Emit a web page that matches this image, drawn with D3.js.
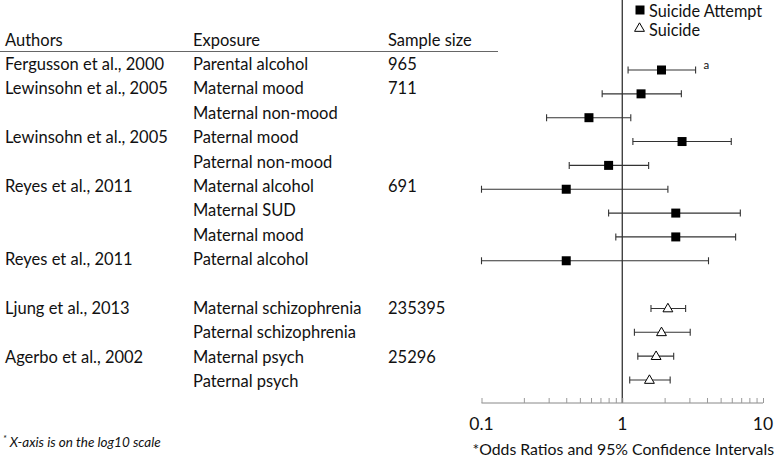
<!DOCTYPE html>
<html>
<head>
<meta charset="utf-8">
<script src="https://cdn.jsdelivr.net/npm/d3@7"></script>
<style>
  html, body { margin: 0; padding: 0; background: #fff; }
  svg { display: block; font-family: Lato, "Open Sans", sans-serif; }
</style>
</head>
<body>
<svg id="chart" width="780" height="460"></svg>
<script>
// ---------------- data ----------------
const authors = ["Fergusson et al., 2000", "Lewinsohn et al., 2005", "", "Lewinsohn et al., 2005", "",
  "Reyes et al., 2011", "", "", "Reyes et al., 2011",
  "Ljung et al., 2013", "", "Agerbo et al., 2002", ""];
const exposures = ["Parental alcohol", "Maternal mood", "Maternal non-mood", "Paternal mood", "Paternal non-mood",
  "Maternal alcohol", "Maternal SUD", "Maternal mood", "Paternal alcohol",
  "Maternal schizophrenia", "Paternal schizophrenia", "Maternal psych", "Paternal psych"];
const sampleSizes = ["965", "711", "", "", "", "691", "", "", "", "235395", "", "25296", ""];
const outcomes = ["attempt", "attempt", "attempt", "attempt", "attempt", "attempt", "attempt", "attempt", "attempt",
  "suicide", "suicide", "suicide", "suicide"];
const oddsRatios = [1.90, 1.36, 0.58, 2.66, 0.80, 0.40, 2.40, 2.40, 0.40, 2.11, 1.90, 1.74, 1.56];
const ciLower    = [1.10, 0.72, 0.29, 1.19, 0.42, 0.10, 0.80, 0.90, 0.10, 1.60, 1.22, 1.29, 1.13];
const ciUpper    = [3.32, 2.63, 1.15, 5.95, 1.54, 2.11, 6.90, 6.39, 4.10, 2.82, 3.04, 2.32, 2.19];
const notes      = ["a", "", "", "", "", "", "", "", "", "", "", "", ""];
// row slots (slot 9 is an empty spacer row between the two outcome groups)
const rowSlots   = [0, 1, 2, 3, 4, 5, 6, 7, 8, 10, 11, 12, 13];
const headers = ["Authors", "Exposure", "Sample size"];
const tickValues = [0.1, 1, 10];
const tickLabels = ["0.1", "1", "10"];
const legendLabels = ["Suicide Attempt", "Suicide"];

// ---------------- layout ----------------
const svg = d3.select("#chart");
const x = d3.scaleLog().domain([0.1, 10]).range([481.5, 763]);
const yMark = d3.scaleLinear().domain([0, 13]).range([70, 380]);
const yText = d3.scaleLinear().domain([0, 13]).range([70, 387.2]);
const colX = [5, 193, 388];
const axisY = 403;
const fs = 16.5;

// header
svg.selectAll("text.hdr").data(headers).join("text")
  .attr("class", "hdr")
  .attr("x", (d, i) => colX[i]).attr("y", 46)
  .attr("font-size", fs).attr("fill", "#111")
  .text(d => d);
svg.append("line").attr("x1", 0).attr("x2", 498).attr("y1", 51.5).attr("y2", 51.5)
  .attr("stroke", "#666").attr("stroke-width", 1.2);

// table rows
const rows = svg.append("g");
[authors, exposures, sampleSizes].forEach((col, ci) => {
  rows.selectAll(null).data(col).join("text")
    .attr("x", colX[ci]).attr("y", (d, i) => yText(rowSlots[i]))
    .attr("font-size", fs).attr("fill", "#111")
    .text(d => d);
});

// reference line at OR = 1
svg.append("line").attr("x1", x(1)).attr("x2", x(1)).attr("y1", 0).attr("y2", axisY)
  .attr("stroke", "#222").attr("stroke-width", 1.2);

// axis (ticks pointing up)
const axis = d3.axisTop(x).tickValues(d3.range(1, 10).map(d => d / 10).concat(d3.range(1, 11)))
  .tickSize(5).tickFormat("");
const ax = svg.append("g").attr("transform", `translate(0,${axisY})`).call(axis);
ax.select(".domain").attr("stroke", "#888").attr("d", `M${x(0.1)},0H${x(10)}`);
ax.selectAll(".tick line").attr("stroke", "#999");
svg.selectAll("text.tl").data(tickValues).join("text")
  .attr("class", "tl").attr("x", d => x(d)).attr("y", 430)
  .attr("text-anchor", "middle").attr("font-size", 17.5).attr("fill", "#111")
  .text((d, i) => tickLabels[i]);
svg.append("text").attr("x", (x(0.1) + x(10)) / 2 + 1).attr("y", 455)
  .attr("text-anchor", "middle").attr("font-size", 15.8).attr("fill", "#111")
  .text("*Odds Ratios and 95% Confidence Intervals");

// footnote
const fn = svg.append("text").attr("x", 3).attr("y", 447).attr("font-size", 13.5)
  .attr("font-style", "italic").attr("fill", "#111");
fn.append("tspan").attr("font-size", 9).attr("dy", -5).text("*");
fn.append("tspan").attr("dy", 5).text(" X-axis is on the log10 scale");

// error bars
const bars = svg.append("g").selectAll("g").data(oddsRatios).join("g")
  .attr("transform", (d, i) => `translate(0,${yMark(rowSlots[i])})`);
bars.append("line").attr("x1", (d, i) => x(ciLower[i])).attr("x2", (d, i) => x(ciUpper[i]))
  .attr("stroke", "#333").attr("stroke-width", 1.1);
bars.append("line").attr("x1", (d, i) => x(ciLower[i])).attr("x2", (d, i) => x(ciLower[i]))
  .attr("y1", -3.5).attr("y2", 3.5).attr("stroke", "#333").attr("stroke-width", 1.1);
bars.append("line").attr("x1", (d, i) => x(ciUpper[i])).attr("x2", (d, i) => x(ciUpper[i]))
  .attr("y1", -3.5).attr("y2", 3.5).attr("stroke", "#333").attr("stroke-width", 1.1);

const sq = d3.symbol().type(d3.symbolSquare).size(81);
const tri = d3.symbol().type(d3.symbolTriangle).size(42);
bars.append("path")
  .attr("transform", (d, i) => `translate(${x(d)},${outcomes[i] === "suicide" ? 0.5 : 0})`)
  .attr("d", (d, i) => outcomes[i] === "suicide" ? tri() : sq())
  .attr("fill", (d, i) => outcomes[i] === "suicide" ? "#fff" : "#000")
  .attr("stroke", "#000").attr("stroke-width", (d, i) => outcomes[i] === "suicide" ? 1 : 0);
bars.append("text").attr("x", (d, i) => x(ciUpper[i]) + 8).attr("y", -1)
  .attr("font-size", 11.5).attr("fill", "#111")
  .text((d, i) => notes[i]);

// legend
const leg = svg.append("g");
leg.append("path").attr("transform", `translate(640,10)`).attr("d", sq()).attr("fill", "#000");
leg.append("path").attr("transform", `translate(639.5,28.5)`).attr("d", tri()).attr("fill", "#fff")
  .attr("stroke", "#000").attr("stroke-width", 1);
leg.selectAll("text").data(legendLabels).join("text")
  .attr("x", 649).attr("y", (d, i) => 16.5 + i * 19)
  .attr("font-size", 16.3).attr("fill", "#111")
  .text(d => d);
</script>
</body>
</html>
